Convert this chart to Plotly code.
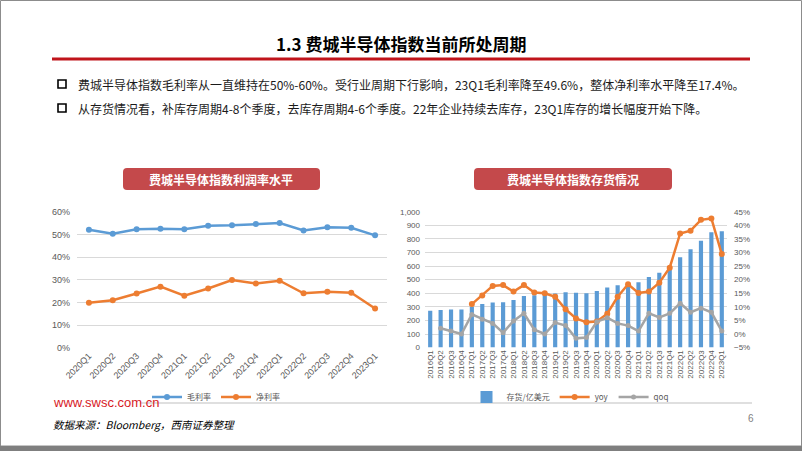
import plotly.graph_objects as go

# ---------------- data ----------------
left_quarters = ["2020Q1", "2020Q2", "2020Q3", "2020Q4", "2021Q1", "2021Q2", "2021Q3",
                 "2021Q4", "2022Q1", "2022Q2", "2022Q3", "2022Q4", "2023Q1"]
gross_margin = [0.521, 0.503, 0.523, 0.525, 0.523, 0.538, 0.540, 0.546, 0.550, 0.517,
                0.531, 0.529, 0.496]
net_margin = [0.199, 0.210, 0.240, 0.270, 0.230, 0.262, 0.299, 0.284, 0.296, 0.241,
              0.248, 0.243, 0.174]

right_quarters = [f"{y}Q{q}" for y in range(2016, 2023) for q in range(1, 5)] + ["2023Q1"]
inventory = [272, 276, 280, 280,
             300, 320, 331, 334,
             351, 379, 385, 393,
             398, 407, 404, 400,
             416, 442, 459, 476,
             480, 519, 551, 592,
             664, 723, 786, 848,
             857]
yoy = [None, None, None, None,
       0.110, 0.142, 0.177, 0.180,
       0.156, 0.180, 0.153, 0.150,
       0.137, 0.091, 0.057, 0.043,
       0.046, 0.075, 0.137, 0.183,
       0.151, 0.156, 0.189, 0.244,
       0.370, 0.380, 0.420, 0.425,
       0.294]
qoq = [None, 0.021, 0.011, 0.000,
       0.072, 0.054, 0.039, 0.005,
       0.048, 0.076, 0.016, 0.000,
       0.042, 0.031, -0.016, -0.013,
       0.045, 0.060, 0.039, 0.031,
       0.011, 0.076, 0.061, 0.076,
       0.113, 0.080, 0.095, 0.080,
       0.011]

left_ticks = [0, 0.1, 0.2, 0.3, 0.4, 0.5, 0.6]
right_ticks = list(range(0, 1001, 100))
right2_ticks = [-0.05, 0, 0.05, 0.10, 0.15, 0.20, 0.25, 0.30, 0.35, 0.40, 0.45]

title_text = "1.3 费城半导体指数当前所处周期"
bullets = ["费城半导体指数毛利率从一直维持在50%-60%。受行业周期下行影响，23Q1毛利率降至49.6%，整体净利率水平降至17.4%。",
           "从存货情况看，补库存周期4-8个季度，去库存周期4-6个季度。22年企业持续去库存，23Q1库存的增长幅度开始下降。"]
left_box_title = "费城半导体指数利润率水平"
right_box_title = "费城半导体指数存货情况"
source_text = "数据来源：Bloomberg，西南证券整理"

# ---------------- layout helpers ----------------
W, H = 802, 451
def px(x): return x / W
def py(y): return 1 - y / H

CJK = "Noto Sans CJK SC"
BLUE, ORANGE, GRAY = "#5B9BD5", "#ED7D31", "#A5A5A5"
TICKC = "#595959"
GRID = "#D9D9D9"

fig = go.Figure()

fig.add_trace(go.Scatter(x=left_quarters, y=gross_margin, name="毛利率", mode="lines+markers",
                         line=dict(color=BLUE, width=2.5), marker=dict(size=6, color=BLUE),
                         xaxis="x", yaxis="y", legend="legend"))
fig.add_trace(go.Scatter(x=left_quarters, y=net_margin, name="净利率", mode="lines+markers",
                         line=dict(color=ORANGE, width=2.5), marker=dict(size=6, color=ORANGE),
                         xaxis="x", yaxis="y", legend="legend"))

fig.add_trace(go.Bar(x=right_quarters, y=inventory, name="存货/亿美元", marker_color=BLUE,
                     xaxis="x2", yaxis="y2", legend="legend2"))
fig.add_trace(go.Scatter(x=right_quarters, y=yoy, name="yoy", mode="lines+markers",
                         line=dict(color=ORANGE, width=2.5), marker=dict(size=6, color=ORANGE),
                         xaxis="x2", yaxis="y3", legend="legend2"))
fig.add_trace(go.Scatter(x=right_quarters, y=qoq, name="qoq", mode="lines+markers",
                         line=dict(color=GRAY, width=2.5), marker=dict(size=5, color=GRAY),
                         xaxis="x2", yaxis="y3", legend="legend2"))

tickfont = dict(family="Arial, Liberation Sans", size=9, color=TICKC)

shapes = []
# slide frame
shapes.append(dict(type="rect", xref="paper", yref="paper", x0=px(0.5), x1=px(801.5),
                   y0=py(446), y1=py(0.5), line=dict(color="#8C8C8C", width=1)))
shapes.append(dict(type="rect", xref="paper", yref="paper", x0=0, x1=1,
                   y0=py(451), y1=py(446), line=dict(width=0), fillcolor="#7F7F7F"))
# red title rule
shapes.append(dict(type="line", xref="paper", yref="paper", x0=px(52), x1=px(750),
                   y0=py(59), y1=py(59), line=dict(color="#C0141B", width=3)))
# bullet squares
for yb in (84, 108):
    shapes.append(dict(type="rect", xref="paper", yref="paper", x0=px(58), x1=px(66),
                       y0=py(yb + 4), y1=py(yb - 4), line=dict(color="#000000", width=1.6)))

def rbox(x0, y0, x1, y1, r=4):
    X = lambda v: px(v)
    Y = lambda v: py(v)
    return (f"M {X(x0+r)},{Y(y0)} L {X(x1-r)},{Y(y0)} Q {X(x1)},{Y(y0)} {X(x1)},{Y(y0+r)} "
            f"L {X(x1)},{Y(y1-r)} Q {X(x1)},{Y(y1)} {X(x1-r)},{Y(y1)} "
            f"L {X(x0+r)},{Y(y1)} Q {X(x0)},{Y(y1)} {X(x0)},{Y(y1-r)} "
            f"L {X(x0)},{Y(y0+r)} Q {X(x0)},{Y(y0)} {X(x0+r)},{Y(y0)} Z")

for (bx0, bx1) in ((123, 320), (474, 672)):
    shapes.append(dict(type="path", xref="paper", yref="paper", path=rbox(bx0, 168, bx1, 190),
                       fillcolor="#C4494B", line=dict(width=0)))
# footer rule
shapes.append(dict(type="line", xref="paper", yref="paper", x0=px(140), x1=px(752),
                   y0=py(403), y1=py(403), line=dict(color="#BFBFBF", width=1)))

annotations = [
    dict(text=f"<b>{title_text}</b>", x=px(401), y=py(44), xref="paper", yref="paper",
         showarrow=False, font=dict(family=CJK, size=17, color="#000000"),
         xanchor="center", yanchor="middle"),
    dict(text=f"<b>{left_box_title}</b>", x=px(221), y=py(179), xref="paper", yref="paper",
         showarrow=False, font=dict(family=CJK, size=12, color="#FFFFFF"),
         xanchor="center", yanchor="middle"),
    dict(text=f"<b>{right_box_title}</b>", x=px(573), y=py(179), xref="paper", yref="paper",
         showarrow=False, font=dict(family=CJK, size=12, color="#FFFFFF"),
         xanchor="center", yanchor="middle"),
    dict(text="www.swsc.com.cn", x=px(51), y=py(402), xref="paper", yref="paper",
         showarrow=False, font=dict(family="Arial, Liberation Sans", size=13, color="#D7191F"),
         xanchor="left", yanchor="middle"),
    dict(text=f"<i>{source_text}</i>", x=px(51), y=py(424), xref="paper", yref="paper",
         showarrow=False, font=dict(family=CJK, size=10.5, color="#000000"),
         xanchor="left", yanchor="middle"),
    dict(text="6", x=px(751), y=py(418), xref="paper", yref="paper",
         showarrow=False, font=dict(family="Arial, Liberation Sans", size=10, color="#7F7F7F"),
         xanchor="center", yanchor="middle"),
]
for t, yb in zip(bullets, (84, 108)):
    annotations.append(dict(text=t, x=px(76), y=py(yb), xref="paper", yref="paper",
                            showarrow=False, font=dict(family=CJK, size=12, color="#1A1A1A"),
                            xanchor="left", yanchor="middle"))

fig.update_layout(
    template="none",
    width=W, height=H, autosize=False,
    margin=dict(l=0, r=0, t=0, b=0, pad=0, autoexpand=False),
    paper_bgcolor="#FFFFFF", plot_bgcolor="rgba(0,0,0,0)",
    bargap=0.6, hovermode=False,
    shapes=shapes, annotations=annotations,
    xaxis=dict(domain=[px(77), px(387)], type="category", tickangle=-45, range=[-0.5, 12.5],
               tickfont=dict(family="Arial, Liberation Sans", size=9, color=TICKC),
               showgrid=False, showline=False, zeroline=False, ticks="", anchor="y", automargin=False),
    yaxis=dict(domain=[py(348), py(211.7)], range=[0, 0.6], tickvals=left_ticks,
               tickformat=".0%", tickfont=tickfont, showgrid=True, gridcolor=GRID, gridwidth=1,
               zeroline=False, showline=False, ticks="", anchor="x", ticklabelstandoff=6,
               automargin=False),
    xaxis2=dict(domain=[px(425), px(727)], type="category", tickangle=-90,
                tickfont=dict(family="Arial, Liberation Sans", size=8, color=TICKC),
                showgrid=False, showline=False, zeroline=False, ticks="", anchor="y2",
                range=[-0.5, 28.5], automargin=False),
    yaxis2=dict(domain=[py(347.6), py(211.7)], range=[0, 1000], tickvals=right_ticks,
                tickformat=",d", tickfont=dict(family="Arial, Liberation Sans", size=8, color=TICKC),
                showgrid=True, gridcolor=GRID, zeroline=False, showline=False, ticks="",
                anchor="x2", ticklabelstandoff=4, automargin=False),
    yaxis3=dict(domain=[py(347.6), py(211.7)], range=[-0.05, 0.45], tickvals=right2_ticks,
                tickformat=".0%", tickfont=dict(family="Arial, Liberation Sans", size=8, color=TICKC),
                showgrid=False, zeroline=False, showline=False, ticks="",
                overlaying="y2", side="right", anchor="x2", ticklabelstandoff=6, automargin=False),
    legend=dict(orientation="h", x=px(216), y=py(397), xanchor="center", yanchor="middle",
                font=dict(family=CJK, size=8, color=TICKC), bgcolor="rgba(0,0,0,0)",
                itemwidth=30, tracegroupgap=0),
    legend2=dict(orientation="h", x=px(570), y=py(397), xanchor="center", yanchor="middle",
                 font=dict(family=CJK, size=8, color=TICKC), bgcolor="rgba(0,0,0,0)",
                 itemwidth=30),
)

post = ("var gd=document.getElementById('{plot_id}');"
        "gd.style.position='fixed';gd.style.left='0px';gd.style.top='0px';"
        "document.documentElement.style.overflow='hidden';"
        "document.body.style.margin='0';document.body.style.padding='0';"
        "document.body.style.overflow='hidden';")
fig.write_html("out.html", config={"displayModeBar": False}, post_script=post)
